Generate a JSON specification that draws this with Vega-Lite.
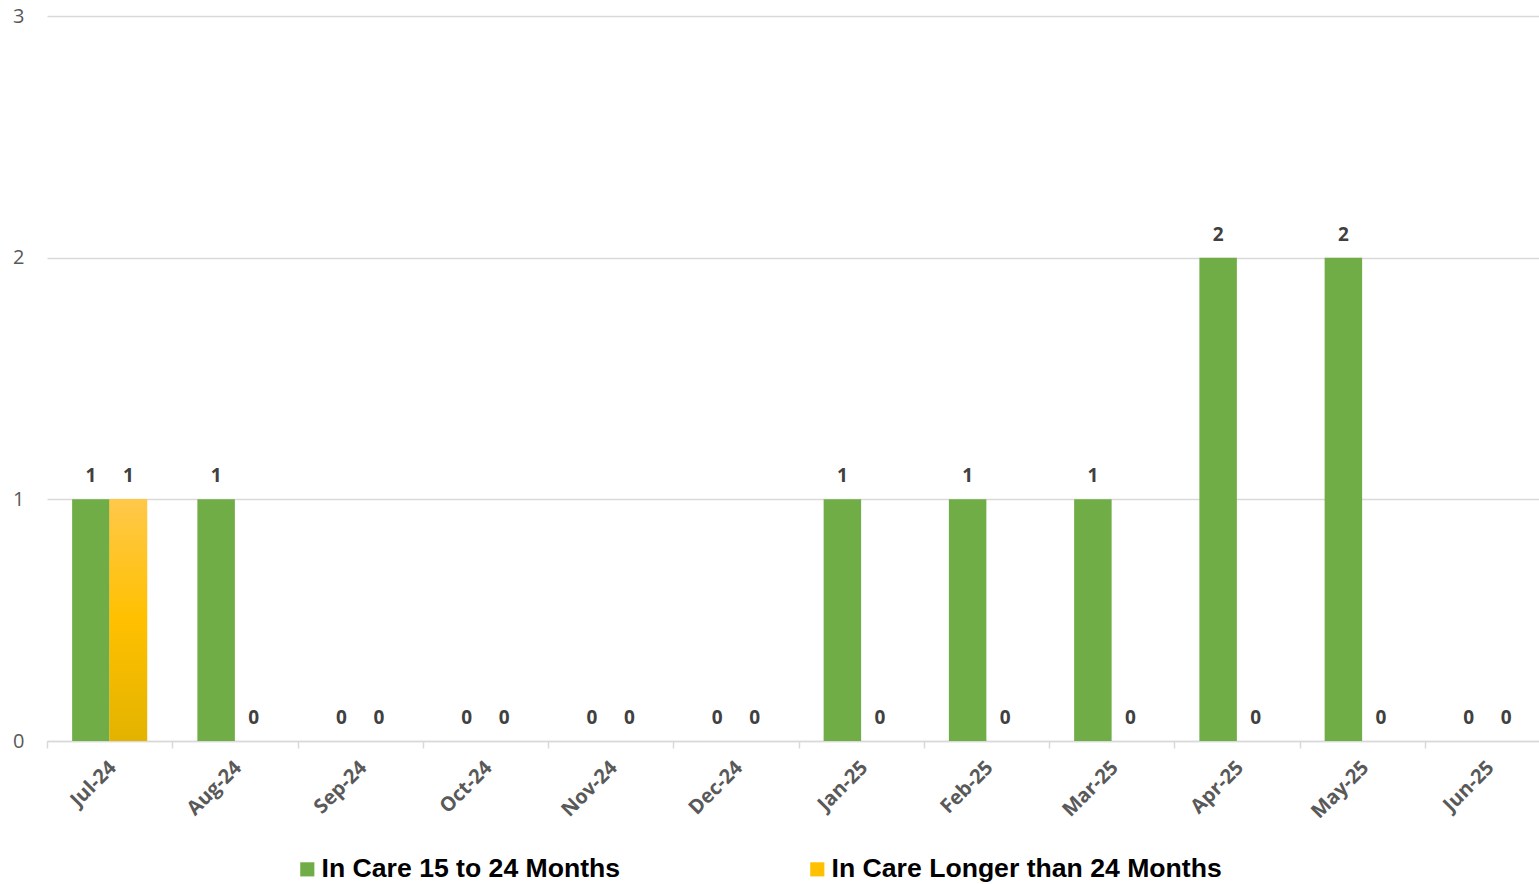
{
  "$schema": "https://vega.github.io/schema/vega-lite/v6.json",
  "autosize": {"type": "none"},
  "padding": {"left": 47, "top": 16, "right": 0, "bottom": 143},
  "width": 1503,
  "height": 725,
  "background": "white",
  "data": {
    "values": [
      {"month": "Jul-24", "series": "In Care 15 to 24 Months", "count": 1},
      {"month": "Jul-24", "series": "In Care Longer than 24 Months", "count": 1},
      {"month": "Aug-24", "series": "In Care 15 to 24 Months", "count": 1},
      {"month": "Aug-24", "series": "In Care Longer than 24 Months", "count": 0},
      {"month": "Sep-24", "series": "In Care 15 to 24 Months", "count": 0},
      {"month": "Sep-24", "series": "In Care Longer than 24 Months", "count": 0},
      {"month": "Oct-24", "series": "In Care 15 to 24 Months", "count": 0},
      {"month": "Oct-24", "series": "In Care Longer than 24 Months", "count": 0},
      {"month": "Nov-24", "series": "In Care 15 to 24 Months", "count": 0},
      {"month": "Nov-24", "series": "In Care Longer than 24 Months", "count": 0},
      {"month": "Dec-24", "series": "In Care 15 to 24 Months", "count": 0},
      {"month": "Dec-24", "series": "In Care Longer than 24 Months", "count": 0},
      {"month": "Jan-25", "series": "In Care 15 to 24 Months", "count": 1},
      {"month": "Jan-25", "series": "In Care Longer than 24 Months", "count": 0},
      {"month": "Feb-25", "series": "In Care 15 to 24 Months", "count": 1},
      {"month": "Feb-25", "series": "In Care Longer than 24 Months", "count": 0},
      {"month": "Mar-25", "series": "In Care 15 to 24 Months", "count": 1},
      {"month": "Mar-25", "series": "In Care Longer than 24 Months", "count": 0},
      {"month": "Apr-25", "series": "In Care 15 to 24 Months", "count": 2},
      {"month": "Apr-25", "series": "In Care Longer than 24 Months", "count": 0},
      {"month": "May-25", "series": "In Care 15 to 24 Months", "count": 2},
      {"month": "May-25", "series": "In Care Longer than 24 Months", "count": 0},
      {"month": "Jun-25", "series": "In Care 15 to 24 Months", "count": 0},
      {"month": "Jun-25", "series": "In Care Longer than 24 Months", "count": 0}
    ]
  },
  "encoding": {
    "x": {
      "field": "month",
      "type": "nominal",
      "sort": null,
      "scale": {"paddingInner": 0, "paddingOuter": 0},
      "axis": {
        "title": null,
        "labelAngle": -45,
        "labelFont": "Open Sans",
        "labelFontWeight": "bold",
        "labelFontSize": 20,
        "labelColor": "#595959",
        "labelPadding": 9,
        "labelOffset": -4,
        "domainColor": "#d9d9d9",
        "domainWidth": 1.5,
        "tickColor": "#d9d9d9",
        "tickWidth": 1.5,
        "tickSize": 7,
        "tickBand": "extent",
        "grid": false
      }
    },
    "xOffset": {
      "field": "series",
      "type": "nominal",
      "scale": {"paddingInner": 0, "paddingOuter": 0.67}
    },
    "y": {
      "field": "count",
      "type": "quantitative",
      "scale": {"domain": [0, 3]},
      "axis": {
        "title": null,
        "values": [0, 1, 2, 3],
        "format": "d",
        "domain": false,
        "ticks": false,
        "labelFont": "Open Sans",
        "labelFontSize": 20,
        "labelColor": "#595959",
        "labelPadding": 23,
        "gridColor": "#d9d9d9",
        "gridWidth": 1.5
      }
    }
  },
  "layer": [
    {
      "mark": {"type": "bar"},
      "encoding": {
        "color": {
          "field": "series",
          "type": "nominal",
          "scale": {"range": ["#70AD47", "#FFC000"]},
          "legend": {
            "title": null,
            "orient": "none",
            "legendX": 247,
            "legendY": 840,
            "direction": "horizontal",
            "columns": 2,
            "gridAlign": "all",
            "columnPadding": 92,
            "symbolType": "square",
            "symbolSize": 200,
            "symbolStrokeWidth": 0,
            "symbolOffset": 0,
            "labelOffset": 1,
            "labelFont": "Liberation Sans Narrow, Liberation Sans",
            "labelFontWeight": "bold",
            "labelFontSize": 26.6,
            "labelColor": "#000000",
            "labelLimit": 600
          }
        }
      }
    },
    {
      "transform": [
        {"filter": "datum.series === 'In Care Longer than 24 Months' && datum.count > 0"}
      ],
      "mark": {
        "type": "bar",
        "color": {
          "gradient": "linear",
          "x1": 0, "y1": 0, "x2": 0, "y2": 1,
          "stops": [
            {"offset": 0, "color": "#FFC84A"},
            {"offset": 0.5, "color": "#FFC000"},
            {"offset": 1, "color": "#E3B300"}
          ]
        }
      }
    },
    {
      "mark": {
        "type": "text",
        "baseline": "bottom",
        "dy": -13,
        "font": "Open Sans",
        "fontWeight": "bold",
        "fontSize": 19,
        "color": "#404040"
      },
      "encoding": {
        "text": {"field": "count", "type": "quantitative"}
      }
    }
  ],
  "config": {
    "view": {"stroke": null}
  }
}
